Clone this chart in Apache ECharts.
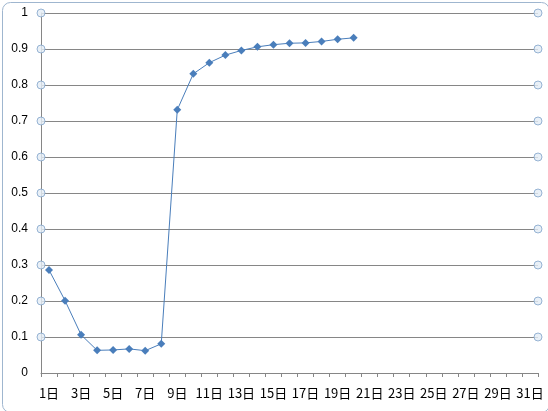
<!DOCTYPE html>
<html>
<head>
<meta charset="utf-8">
<script src="https://cdn.jsdelivr.net/npm/echarts@6/dist/echarts.min.js"></script>
<style>
html,body{margin:0;padding:0;background:#fff;}
#c{width:548px;height:411px;}
</style>
</head>
<body>
<div id="c"></div>
<script>
const days = Array.from({length: 31}, (_, i) => (i + 1) + '日');
const values = [0.286, 0.201, 0.106, 0.063, 0.064, 0.067, 0.062, 0.081, 0.731, 0.831,
                0.862, 0.883, 0.896, 0.906, 0.912, 0.916, 0.917, 0.921, 0.927, 0.931];
const yTicks = [0.1, 0.2, 0.3, 0.4, 0.5, 0.6, 0.7, 0.8, 0.9, 1];

const axisMarks = [];
yTicks.forEach(v => { axisMarks.push([0, v]); axisMarks.push([1, v]); });

const chart = echarts.init(document.getElementById('c'));
chart.setOption({
  animation: false,
  backgroundColor: '#ffffff',
  graphic: [{
    type: 'rect', left: 0, top: 0,
    shape: {x: 0.5, y: 0.5, width: 547, height: 410, r: 8},
    style: {fill: 'none', stroke: '#9fb6cf', lineWidth: 1},
    silent: true, z: -1
  }],
  grid: {left: 41, right: 10, top: 13, bottom: 38, containLabel: false},
  xAxis: [{
    type: 'category',
    data: days,
    boundaryGap: true,
    axisLine: {lineStyle: {color: '#868686', width: 1}},
    axisTick: {show: true, interval: 0, length: 4, inside: false, lineStyle: {color: '#868686'}},
    axisLabel: {interval: 1, color: '#000', fontSize: 13, margin: 14,
      fontFamily: '"Noto Sans CJK SC", sans-serif'},
    splitLine: {show: false}
  }, {
    type: 'value', min: 0, max: 1, show: false
  }],
  yAxis: {
    type: 'value', min: 0, max: 1, interval: 0.1,
    axisLine: {show: true, lineStyle: {color: '#868686', width: 1}},
    axisTick: {show: false},
    axisLabel: {color: '#000', fontSize: 12, margin: 13,
      fontFamily: '"Liberation Sans", sans-serif',
      formatter: v => String(Math.round(v * 10) / 10)},
    splitLine: {show: true, lineStyle: {color: '#868686', width: 1}}
  },
  series: [{
    type: 'line',
    data: values,
    xAxisIndex: 0,
    symbol: 'diamond',
    symbolSize: 8,
    lineStyle: {color: '#4a7ebb', width: 1},
    itemStyle: {color: '#4a7ebb'},
    z: 5
  }, {
    type: 'scatter',
    xAxisIndex: 1,
    data: axisMarks,
    symbol: 'circle',
    symbolSize: 8,
    itemStyle: {color: '#e3ecf5', borderColor: '#7fa3c9', borderWidth: 1},
    z: 6
  }]
});
</script>
</body>
</html>
